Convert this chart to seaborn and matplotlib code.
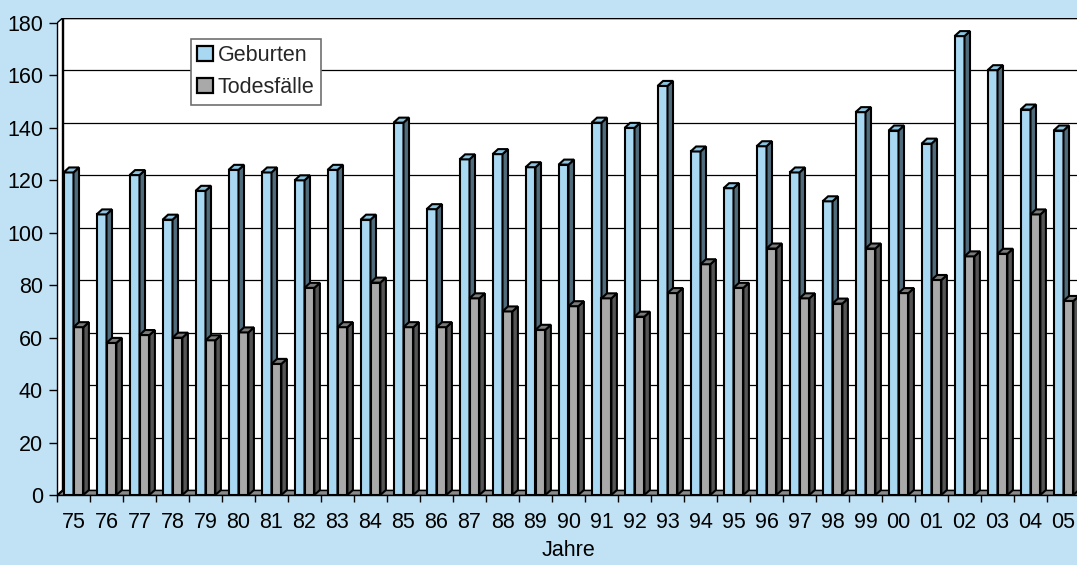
import matplotlib
matplotlib.use("Agg")
import matplotlib.pyplot as plt
from matplotlib.patches import Polygon, Patch
import seaborn as sns
import pandas as pd

years = ["75", "76", "77", "78", "79", "80", "81", "82", "83", "84", "85", "86", "87", "88", "89", "90",
         "91", "92", "93", "94", "95", "96", "97", "98", "99", "00", "01", "02", "03", "04", "05"]
geburten = [123, 107, 122, 105, 116, 124, 123, 120, 124, 105, 142, 109, 128, 130, 125, 126,
            142, 140, 156, 131, 117, 133, 123, 112, 146, 139, 134, 175, 162, 147, 139]
todesfaelle = [64, 58, 61, 60, 59, 62, 50, 79, 64, 81, 64, 64, 75, 70, 63, 72,
               75, 68, 77, 88, 79, 94, 75, 73, 94, 77, 82, 91, 92, 107, 74]
series = ["Geburten", "Todesfälle"]
y_ticks = [0, 20, 40, 60, 80, 100, 120, 140, 160, 180]

BG = "#C0E2F4"
FRONT = {"Geburten": "#A8D8F2", "Todesfälle": "#A9A9A9"}
SIDE = {"Geburten": "#4F6C7C", "Todesfälle": "#555555"}
TOP = {"Geburten": "#8CC4E0", "Todesfälle": "#7A7A7A"}
FS = 15.5

df = pd.DataFrame({
    "Jahr": years * 2,
    "Wert": geburten + todesfaelle,
    "Serie": [series[0]] * len(years) + [series[1]] * len(years),
})

sns.set_theme(style="white")
plt.rcParams["font.family"] = ["Liberation Sans", "DejaVu Sans"]

W, H = 1077, 565
fig = plt.figure(figsize=(W / 100, H / 100), dpi=100, facecolor=BG)
n = len(years)
ax = fig.add_axes([57 / W, 70 / H, 33 * n / W, 477 / H])
ax.set_facecolor("none")

sns.barplot(data=df, x="Jahr", y="Wert", hue="Serie", order=years, hue_order=series,
            palette=FRONT, width=0.6, dodge=True, saturation=1, ax=ax,
            edgecolor="black", linewidth=1.5, legend=False)

ymax = 180 + 5 / 2.622
ax.set_xlim(-0.5, n - 0.5)
ax.set_ylim(0, ymax)

# depth vector in data units
dx = 5.5 / 33.0
dy = 5.0 / 2.622

# back wall, left wall and floor
back = Polygon([(-0.5 + dx, dy), (n + 1, dy), (n + 1, 180 + dy), (-0.5 + dx, 180 + dy)],
               closed=True, facecolor="white", edgecolor="black", lw=1.0, zorder=0.5)
ax.add_patch(back)
left = Polygon([(-0.5, 0), (-0.5, 180), (-0.5 + dx, 180 + dy), (-0.5 + dx, dy)],
               closed=True, facecolor="white", edgecolor="black", lw=1.0, zorder=0.6)
ax.add_patch(left)
floor = Polygon([(-0.5, 0), (n + 1, 0), (n + 1, dy), (-0.5 + dx, dy)],
                closed=True, facecolor="#8A8A8A", edgecolor="black", lw=1.0, zorder=0.7)
ax.add_patch(floor)
for v in y_ticks[1:]:
    ax.plot([-0.5 + dx, n + 1], [v + dy, v + dy], color="black", lw=0.9, zorder=0.8,
            solid_capstyle="butt")

# 3D faces for each bar
for si, cont in enumerate(ax.containers):
    name = series[si]
    base_z = 3 + 2 * si
    for bar in cont:
        x0, w, h = bar.get_x(), bar.get_width(), bar.get_height()
        bar.set_zorder(base_z)
        side = Polygon([(x0 + w, 0), (x0 + w, h), (x0 + w + dx, h + dy), (x0 + w + dx, dy)],
                       closed=True, facecolor=SIDE[name], edgecolor="black", lw=1.5,
                       joinstyle="miter", zorder=base_z + 0.3)
        top = Polygon([(x0, h), (x0 + w, h), (x0 + w + dx, h + dy), (x0 + dx, h + dy)],
                      closed=True, facecolor=TOP[name], edgecolor="black", lw=1.5,
                      joinstyle="miter", zorder=base_z + 0.4)
        ax.add_patch(side)
        ax.add_patch(top)

for s in ["top", "right"]:
    ax.spines[s].set_visible(False)
ax.spines["left"].set_color("black")
ax.spines["bottom"].set_color("black")
ax.spines["left"].set_linewidth(1.0)
ax.spines["bottom"].set_linewidth(1.0)
ax.spines["left"].set_bounds(0, 180)
ax.spines["left"].set_zorder(10)
ax.spines["bottom"].set_zorder(10)

ax.set_yticks(y_ticks)
ax.set_yticklabels([str(v) for v in y_ticks])
ax.tick_params(axis="y", direction="out", length=6, width=1, color="black",
               labelsize=FS, pad=4, left=True, labelcolor="black")
ax.set_xticks(range(n))
ax.set_xticklabels(years)
ax.tick_params(axis="x", which="major", length=0, labelsize=FS, pad=12, labelcolor="black")
ax.set_xticks([i - 0.5 for i in range(n + 1)], minor=True)
ax.tick_params(axis="x", which="minor", direction="out", length=5, width=1, color="black",
               bottom=True)
ax.set_xlabel("Jahre", fontsize=FS, labelpad=5, color="black")
ax.set_ylabel("")

handles = [Patch(facecolor=FRONT[s], edgecolor="black", lw=1.6) for s in series]
leg = ax.legend(handles, series, loc="upper left", bbox_to_anchor=(191 / W, 1 - 39 / H),
                bbox_transform=fig.transFigure, borderaxespad=0, fontsize=FS,
                handlelength=0.7, handleheight=0.7, handletextpad=0.25,
                labelspacing=0.5, borderpad=0.3, frameon=True, fancybox=False,
                shadow=False)
leg.get_frame().set_edgecolor("#707070")
leg.get_frame().set_linewidth(1.2)
leg.get_frame().set_facecolor("white")
leg.get_frame().set_alpha(1)
leg.set_zorder(20)

fig.savefig("out.png", dpi=100, facecolor=BG)
